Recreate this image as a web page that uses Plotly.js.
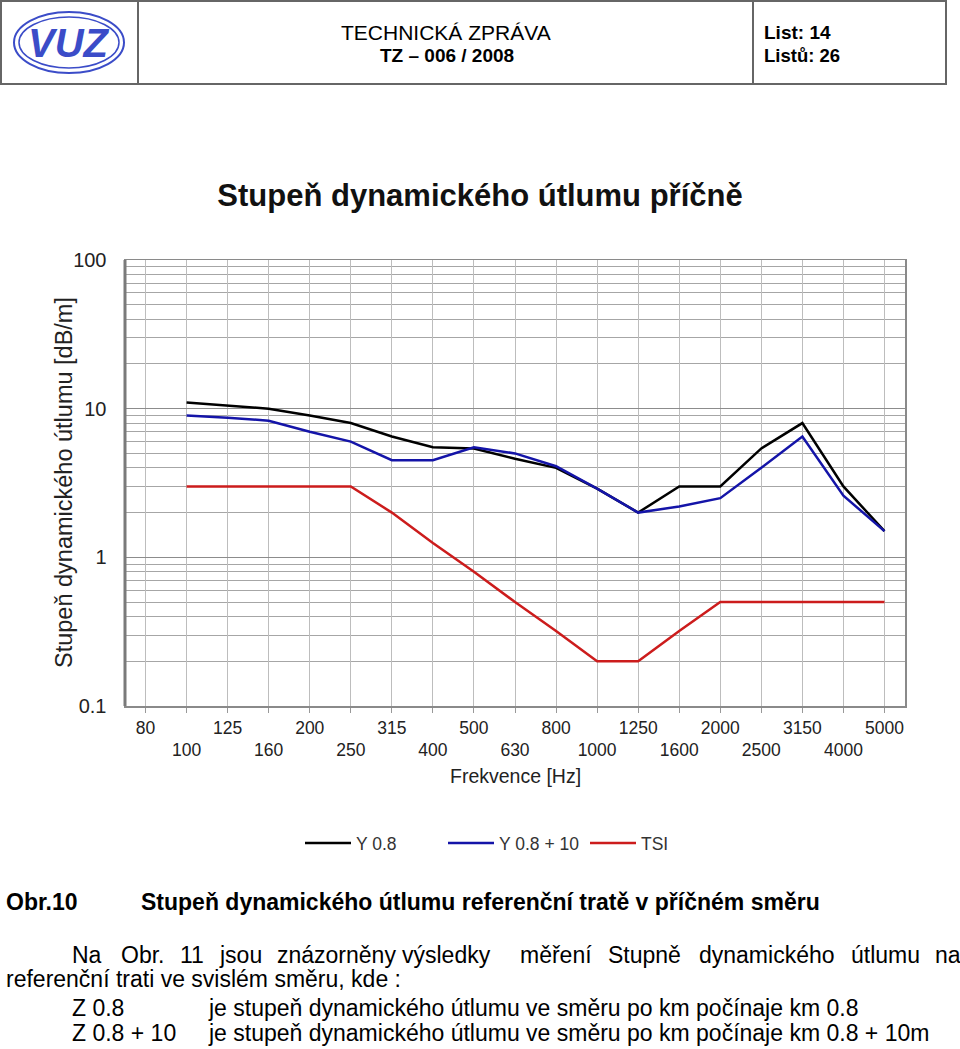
<!DOCTYPE html>
<html>
<head>
<meta charset="utf-8">
<script src="https://cdn.plot.ly/plotly-3.0.1.min.js"></script>
<style>html,body{margin:0;padding:0;background:#fff;}#chart{width:960px;height:1049px;}</style>
</head>
<body>
<div id="chart"></div>
<script>
// ---- data ----
const freqs = ['80','100','125','160','200','250','315','400','500','630','800','1000','1250','1600','2000','2500','3150','4000','5000'];
const y08      = [null, 11.0, 10.5, 10.0, 9.0, 8.0, 6.5, 5.5, 5.4, 4.6, 4.0, 2.9, 2.0, 3.0, 3.0, 5.4, 8.0, 3.0, 1.5];
const y08p10   = [null, 9.0, 8.7, 8.3, 7.0, 6.0, 4.5, 4.5, 5.5, 5.0, 4.1, 2.9, 2.0, 2.2, 2.5, 4.0, 6.5, 2.6, 1.5];
const tsi      = [null, 3.0, 3.0, 3.0, 3.0, 3.0, 2.0, 1.25, 0.8, 0.5, 0.32, 0.2, 0.2, 0.32, 0.5, 0.5, 0.5, 0.5, 0.5];
const seriesNames = ['Y 0.8', 'Y 0.8 + 10', 'TSI'];
const yTickVals = [0.1, 1, 10, 100];
const yTickText = ['0.1', '1', '10', '100'];

const W = 960, H = 1049;
const px = v => v / W;
const py = v => 1 - v / H;
const FA = "'Liberation Sans', Arial, sans-serif";
const FN = FA;

const xTickText = freqs.map((f, i) => i % 2 === 0 ? f : '<br>' + f);

const traces = [
  {x: freqs, y: y08, name: seriesNames[0], mode: 'lines', line: {color: '#000000', width: 2.5}, legend: 'legend'},
  {x: freqs, y: y08p10, name: seriesNames[1], mode: 'lines', line: {color: '#1414a8', width: 2.5}, legend: 'legend2'},
  {x: freqs, y: tsi, name: seriesNames[2], mode: 'lines', line: {color: '#cc1c1c', width: 2.5}, legend: 'legend3'}
];

const legBase = {orientation: 'h', xanchor: 'left', yanchor: 'middle', bgcolor: 'rgba(0,0,0,0)',
  font: {family: FN, size: 17.5, color: '#333'}, itemwidth: 46};

const shapes = [
  // header box
  {type: 'rect', xref: 'paper', yref: 'paper', x0: px(1), x1: px(946), y0: py(84), y1: py(1), line: {color: '#666', width: 2}},
  {type: 'line', xref: 'paper', yref: 'paper', x0: px(138), x1: px(138), y0: py(84), y1: py(1), line: {color: '#666', width: 2}},
  {type: 'line', xref: 'paper', yref: 'paper', x0: px(753), x1: px(753), y0: py(84), y1: py(1), line: {color: '#666', width: 2}},
  // logo ellipses
  {type: 'circle', xref: 'paper', yref: 'paper', x0: px(14), x1: px(124), y0: py(73), y1: py(12), line: {color: '#3b4cc8', width: 2}},
  {type: 'circle', xref: 'paper', yref: 'paper', x0: px(19), x1: px(119), y0: py(68), y1: py(17), line: {color: '#3b4cc8', width: 1.5}},
  // left heavy plot edge
  {type: 'line', xref: 'paper', yref: 'paper', x0: px(125), x1: px(125), y0: py(706), y1: py(260), line: {color: '#7a7a7a', width: 3}}
];

const ann = (text, x, y, opts) => Object.assign({text: text, xref: 'paper', yref: 'paper', x: px(x), y: py(y),
  showarrow: false, xanchor: 'left', yanchor: 'middle', font: {family: FA, size: 23, color: '#000'}}, opts || {});

const para1 = [['Na', 70], ['Obr.', 119], ['11', 178], ['jsou', 217], ['znázorněny', 275], ['výsledky', 400],
  ['měření', 518], ['Stupně', 606], ['dynamického', 697], ['útlumu', 849], ['na', 933]];

const annotations = [
  ann('<b><i>VUZ</i></b>', 69, 43, {xanchor: 'center', font: {family: FA, size: 40, color: '#3b4cc8'}}),
  ann('TECHNICKÁ ZPRÁVA', 446, 32, {xanchor: 'center', font: {family: FA, size: 21, color: '#000'}}),
  ann('<b>TZ – 006 / 2008</b>', 447, 55, {xanchor: 'center', font: {family: FA, size: 19, color: '#000'}}),
  ann('<b>List: 14</b>', 762, 32, {font: {family: FA, size: 19, color: '#000'}}),
  ann('<b>Listů: 26</b>', 762, 55, {font: {family: FA, size: 18.5, color: '#000'}}),
  ann('Stupeň dynamického útlumu [dB/m]', 64, 483, {xanchor: 'center', textangle: -90, font: {family: FA, size: 23.5, color: '#222'}}),
  ann('Frekvence [Hz]', 515, 776, {xanchor: 'center', font: {family: FN, size: 19.5, color: '#222'}}),
  ann('<b>Obr.10</b>', 4, 902, {font: {family: FA, size: 23, color: '#000'}}),
  ann('<b>Stupeň dynamického útlumu referenční tratě v příčném směru</b>', 139, 902, {font: {family: FA, size: 23, color: '#000'}}),
  ann('referenční trati ve svislém směru, kde :', 4, 979),
  ann('Z 0.8', 70, 1008),
  ann('je stupeň dynamického útlumu ve směru po km počínaje km 0.8', 206, 1008),
  ann('Z 0.8 + 10', 70, 1033),
  ann('je stupeň dynamického útlumu ve směru po km počínaje km 0.8 + 10m', 206, 1033)
].concat(para1.map(w => ann(w[0], w[1], 955)));

const layout = {
  width: W, height: H,
  margin: {l: 0, r: 0, t: 0, b: 0, pad: 0},
  paper_bgcolor: '#fff', plot_bgcolor: '#fff',
  title: {text: '<b>Stupeň dynamického útlumu příčně</b>', x: px(480), xanchor: 'center', y: py(195), yanchor: 'middle',
    font: {family: FN, size: 31, color: '#111'}},
  xaxis: {
    domain: [px(125), px(905)], type: 'category', categoryorder: 'array', categoryarray: freqs,
    range: [-0.5, freqs.length - 0.5], tickmode: 'array', tickvals: freqs, ticktext: xTickText, tickangle: 0,
    ticks: 'outside', ticklen: 5, tickcolor: '#999', showgrid: true, gridcolor: '#bdbdbd', gridwidth: 1,
    showline: true, linecolor: '#8a8a8a', linewidth: 1.5, mirror: true, zeroline: false, automargin: false,
    tickfont: {family: FN, size: 17.5, color: '#222'}, fixedrange: true
  },
  yaxis: {
    domain: [py(706), py(260)], type: 'log', range: [-1, 2], tickmode: 'array', tickvals: yTickVals, ticktext: yTickText,
    ticks: '', showgrid: true, gridcolor: '#8c8c8c', gridwidth: 1.2,
    minor: {dtick: 'D1', showgrid: true, gridcolor: '#a6a6a6', gridwidth: 1, ticks: ''},
    showline: true, linecolor: '#8a8a8a', linewidth: 1.5, mirror: true, zeroline: false, automargin: false,
    ticklabelstandoff: 13, tickfont: {family: FN, size: 20, color: '#222'}, fixedrange: true
  },
  showlegend: true,
  legend: Object.assign({}, legBase, {x: px(300), y: py(843)}),
  legend2: Object.assign({}, legBase, {x: px(443), y: py(843)}),
  legend3: Object.assign({}, legBase, {x: px(585), y: py(843)}),
  shapes: shapes,
  annotations: annotations
};

Plotly.newPlot('chart', traces, layout, {staticPlot: true, displayModeBar: false});
</script>
</body>
</html>
